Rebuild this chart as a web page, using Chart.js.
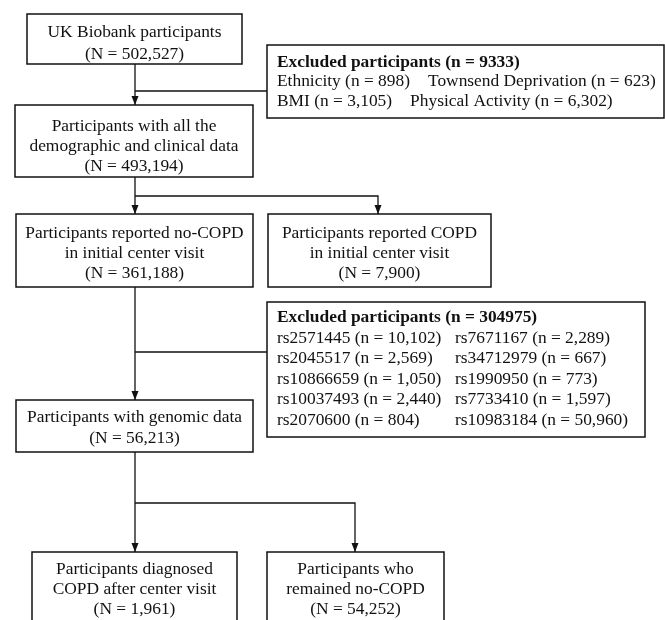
<!DOCTYPE html>
<html lang="en">

<head>
    <meta charset="UTF-8">
    <title>UK Biobank participant flow</title>
    <script src="https://cdn.jsdelivr.net/npm/chart.js"></script>
    <style>
        body { margin: 0; background: #fff; }
        #wrap { width: 665px; height: 620px; }
    </style>
</head>

<body>
    <div id="wrap"><canvas id="flow" width="665" height="620"></canvas></div>

    <script>
        // --- data ---
        const stageLabels = [
            ['UK Biobank participants'],
            ['Participants with all the', 'demographic and clinical data'],
            ['Participants reported no-COPD', 'in initial center visit'],
            ['Participants reported COPD', 'in initial center visit'],
            ['Participants with genomic data'],
            ['Participants diagnosed', 'COPD after center visit'],
            ['Participants who', 'remained no-COPD']
        ];
        const stageCounts = [502527, 493194, 361188, 7900, 56213, 1961, 54252];

        const excludedTotals = [9333, 304975];
        const covariateLabels = ['Ethnicity', 'Townsend Deprivation', 'BMI', 'Physical Activity'];
        const covariateCounts = [898, 623, 3105, 6302];
        const snpLabels = ['rs2571445', 'rs7671167', 'rs2045517', 'rs34712979', 'rs10866659',
            'rs1990950', 'rs10037493', 'rs7733410', 'rs2070600', 'rs10983184'];
        const snpCounts = [10102, 2289, 2569, 667, 1050, 773, 2440, 1597, 804, 50960];

        // --- layout (page units, mapped through the chart scales) ---
        // [x0, y0, x1, y1, first baseline, line height]
        const stageBoxes = [
            [27, 14, 242, 64, 37, 22],
            [15, 105, 253, 177, 131, 20],
            [16, 214, 253, 287, 238, 20],
            [268, 214, 491, 287, 238, 20],
            [16, 400, 253, 452, 422, 21],
            [32, 552, 237, 636, 574, 20],
            [267, 552, 444, 636, 574, 20]
        ];
        const excludedBoxes = [[267, 45, 664, 118], [267, 302, 645, 437]];
        // connector polylines; last segment gets an arrow if flagged
        const connectors = [
            { pts: [[135, 64], [135, 105]], arrow: true },
            { pts: [[135, 91], [267, 91]], arrow: false },
            { pts: [[135, 177], [135, 196], [135, 214]], arrow: true },
            { pts: [[135, 196], [378, 196], [378, 214]], arrow: true },
            { pts: [[135, 287], [135, 400]], arrow: true },
            { pts: [[135, 352], [267, 352]], arrow: false },
            { pts: [[135, 452], [135, 552]], arrow: true },
            { pts: [[135, 503], [355, 503], [355, 552]], arrow: true }
        ];

        const fmt = n => n.toLocaleString('en-US');
        const FONT = '"Liberation Serif", "Times New Roman", serif';
        const INK = '#111';

        const connectorSets = connectors.map(c => ({
            data: c.pts.map(p => ({ x: p[0], y: p[1] })),
            showLine: true,
            borderColor: INK,
            borderWidth: 1.3,
            pointRadius: 0,
            fill: false
        }));

        const flowPlugin = {
            id: 'flowBoxes',
            afterDatasetsDraw(chart) {
                const { ctx, scales: { x, y } } = chart;
                const px = v => x.getPixelForValue(v);
                const py = v => y.getPixelForValue(v);
                ctx.save();
                ctx.strokeStyle = INK;
                ctx.fillStyle = INK;
                ctx.lineWidth = 1.5;

                // arrow heads
                connectors.forEach(c => {
                    if (!c.arrow) return;
                    const [ax, ay] = c.pts[c.pts.length - 1];
                    const tx = px(ax), ty = py(ay);
                    ctx.beginPath();
                    ctx.moveTo(tx, ty);
                    ctx.lineTo(tx - 3.5, ty - 9);
                    ctx.lineTo(tx + 3.5, ty - 9);
                    ctx.closePath();
                    ctx.fill();
                });

                const rect = b => {
                    const x0 = px(b[0]), y0 = py(b[1]), x1 = px(b[2]), y1 = py(b[3]);
                    ctx.fillStyle = '#fff';
                    ctx.fillRect(x0, y0, x1 - x0, y1 - y0);
                    ctx.strokeRect(x0, y0, x1 - x0, y1 - y0);
                    ctx.fillStyle = INK;
                    return { x0, y0, x1, y1 };
                };

                // stage boxes
                ctx.font = '17.4px ' + FONT;
                ctx.textAlign = 'center';
                ctx.textBaseline = 'alphabetic';
                stageBoxes.forEach((b, i) => {
                    const r = rect(b);
                    const lines = stageLabels[i].concat(['(N = ' + fmt(stageCounts[i]) + ')']);
                    const cx = (r.x0 + r.x1) / 2;
                    lines.forEach((t, k) => {
                        ctx.fillText(t, cx, py(b[4] + k * b[5]));
                    });
                });

                // excluded box 1
                ctx.textAlign = 'left';
                let r = rect(excludedBoxes[0]);
                ctx.font = 'bold 17.4px ' + FONT;
                ctx.fillText('Excluded participants (n = ' + excludedTotals[0] + ')', r.x0 + 10, r.y0 + 22);
                ctx.font = '17.4px ' + FONT;
                for (let row = 0; row < 2; row++) {
                    const a = covariateLabels[row * 2] + ' (n = ' + fmt(covariateCounts[row * 2]) + ')';
                    const b = covariateLabels[row * 2 + 1] + ' (n = ' + fmt(covariateCounts[row * 2 + 1]) + ')';
                    const yy = r.y0 + 41 + row * 19.5;
                    ctx.fillText(a, r.x0 + 10, yy);
                    ctx.fillText(b, r.x0 + 10 + ctx.measureText(a).width + 18, yy);
                }

                // excluded box 2
                r = rect(excludedBoxes[1]);
                ctx.font = 'bold 17.4px ' + FONT;
                ctx.fillText('Excluded participants (n = ' + excludedTotals[1] + ')', r.x0 + 10, r.y0 + 20);
                ctx.font = '17.4px ' + FONT;
                snpLabels.forEach((s, i) => {
                    const col = i % 2, row = Math.floor(i / 2);
                    const t = s + ' (n = ' + fmt(snpCounts[i]) + ')';
                    ctx.fillText(t, r.x0 + 10 + col * 178, r.y0 + 41 + row * 20.4);
                });
                ctx.restore();
            }
        };

        new Chart(document.getElementById('flow'), {
            type: 'scatter',
            data: { datasets: connectorSets },
            options: {
                responsive: false,
                animation: false,
                layout: { padding: 0 },
                plugins: { legend: { display: false }, tooltip: { enabled: false } },
                scales: {
                    x: { type: 'linear', min: 0, max: 665, display: false },
                    y: { type: 'linear', min: 0, max: 620, reverse: true, display: false }
                }
            },
            plugins: [flowPlugin]
        });
    </script>
</body>

</html>
